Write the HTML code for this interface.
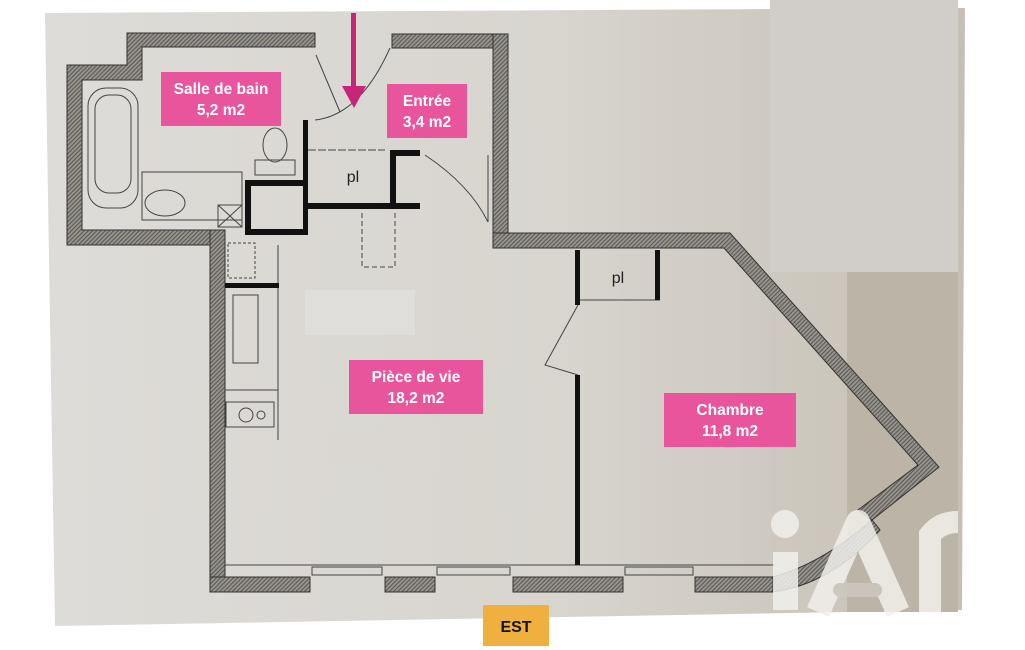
<!DOCTYPE html>
<html><head><meta charset="utf-8"><style>
html,body{margin:0;padding:0;background:#fff;}
svg{display:block;}
.lbl{font-family:"Liberation Sans",sans-serif;font-weight:bold;fill:#fff;font-size:15.5px;text-anchor:middle;}
</style></head><body>
<svg width="1025" height="650" viewBox="0 0 1025 650" xmlns="http://www.w3.org/2000/svg">
<defs>
<pattern id="h" width="3" height="3" patternUnits="userSpaceOnUse" patternTransform="rotate(45)">
<rect width="3" height="3" fill="#9a9690"/><rect width="1.2" height="3" fill="#5e5b57"/>
</pattern>
<linearGradient id="pg" x1="0" y1="0" x2="1" y2="0">
<stop offset="0" stop-color="#dedcd8"/><stop offset="0.55" stop-color="#d8d5cf"/><stop offset="1" stop-color="#c6bfb4"/>
</linearGradient>
</defs>
<rect width="1025" height="650" fill="#fff"/>
<polygon points="45,13 965,8 962,610 55,626" fill="url(#pg)"/>
<rect x="770" y="0" width="188" height="272" fill="#d1cec9"/>
<rect x="847" y="272" width="111" height="340" fill="#bdb4a8"/>
<rect x="305" y="290" width="110" height="45" fill="#e0deda"/>
<rect x="330" y="430" width="110" height="35" fill="#dad7d2"/>
<g fill="url(#h)" stroke="#333" stroke-width="1">
<polygon points="127,33 315,33 315,47 142,47 142,80 82,80 82,230 225,230 225,245 67,245 67,65 127,65"/>
<rect x="210" y="230" width="15" height="360"/>
<rect x="392" y="34" width="113" height="14"/>
<rect x="493" y="34" width="15" height="214"/>
<polygon points="493,233 730,233 939,467 872,520 858,510 918,465 724,248 493,248"/>
<path d="M872,520 Q820,565 772,577 L772,592 Q830,585 880,530 Z"/>
<rect x="210" y="577" width="100" height="15"/>
<rect x="385" y="577" width="50" height="15"/>
<rect x="513" y="577" width="110" height="15"/>
<rect x="695" y="577" width="78" height="15"/>
</g>
<g stroke="#444" stroke-width="1" fill="none">
<line x1="225" y1="565" x2="775" y2="565"/>
<rect x="312" y="567" width="70" height="8"/><rect x="437" y="567" width="73" height="8"/><rect x="625" y="567" width="68" height="8"/>
<rect x="88" y="88" width="50" height="120" rx="18"/>
<rect x="95" y="95" width="36" height="98" rx="14"/>
<rect x="142" y="172" width="100" height="48"/>
<ellipse cx="165" cy="203" rx="20" ry="13"/>
<rect x="218" y="205" width="24" height="22"/><path d="M218,205 L242,227 M242,205 L218,227"/>
<ellipse cx="275" cy="145" rx="12" ry="17"/><rect x="255" y="160" width="40" height="15"/>
<rect x="228" y="243" width="27" height="35" stroke-dasharray="3,2"/>
<rect x="233" y="295" width="25" height="68"/>
<rect x="226" y="402" width="48" height="25"/><circle cx="246" cy="415" r="7"/><circle cx="261" cy="415" r="4"/>
<line x1="225" y1="285" x2="278" y2="285"/><line x1="225" y1="390" x2="278" y2="390"/><line x1="278" y1="245" x2="278" y2="440"/>
<path d="M362,213 L362,267 L395,267 L395,213" stroke-dasharray="5,3"/>
<line x1="308" y1="150" x2="385" y2="150" stroke-dasharray="8,2"/>
<path d="M315,120 Q360,115 390,48"/>
<path d="M316,55 L340,112"/>
<path d="M425,155 Q470,185 488,222"/><line x1="488" y1="155" x2="488" y2="222"/>
<path d="M578,305 L545,365 L578,375"/>
<line x1="580" y1="300" x2="660" y2="300"/>
</g>
<g fill="#111">
<rect x="303" y="120" width="5" height="115"/>
<rect x="245" y="180" width="60" height="6"/><rect x="245" y="180" width="6" height="55"/><rect x="245" y="229" width="60" height="6"/>
<rect x="305" y="203" width="115" height="6"/>
<rect x="390" y="150" width="30" height="6"/><rect x="390" y="150" width="6" height="58"/>
<rect x="225" y="283" width="54" height="5"/>
<rect x="575" y="250" width="5" height="55"/>
<rect x="575" y="375" width="5" height="190"/>
<rect x="655" y="250" width="5" height="50"/>
</g>
<text x="353" y="182" font-family="Liberation Sans,sans-serif" font-size="16" fill="#222" text-anchor="middle">pl</text>
<text x="618" y="283" font-family="Liberation Sans,sans-serif" font-size="16" fill="#222" text-anchor="middle">pl</text>
<rect x="351" y="13" width="5" height="78" fill="#c8257a"/>
<polygon points="342,86 366,86 354,108" fill="#c8257a"/>
<rect x="161" y="72" width="120" height="54" fill="#e8559c"/>
<text class="lbl" x="221" y="94">Salle de bain</text><text class="lbl" x="221" y="115">5,2 m2</text>
<rect x="387" y="84" width="80" height="54" fill="#e8559c"/>
<text class="lbl" x="427" y="106">Entrée</text><text class="lbl" x="427" y="127">3,4 m2</text>
<rect x="349" y="360" width="134" height="54" fill="#e8559c"/>
<text class="lbl" x="416" y="382">Pièce de vie</text><text class="lbl" x="416" y="403">18,2 m2</text>
<rect x="664" y="393" width="132" height="54" fill="#e8559c"/>
<text class="lbl" x="730" y="415">Chambre</text><text class="lbl" x="730" y="436">11,8 m2</text>
<rect x="483" y="605" width="66" height="41" fill="#f0b040"/>
<text x="516" y="632" font-family="Liberation Sans,sans-serif" font-weight="bold" font-size="16" fill="#111" text-anchor="middle">EST</text>
<g opacity="0.85">
<circle cx="785" cy="524" r="14" fill="#f2f0ec"/>
<rect x="773" y="552" width="25" height="58" fill="#f2f0ec"/>
<polyline points="818,612 858,522 898,612" fill="none" stroke="#f2f0ec" stroke-width="24" stroke-linejoin="round"/>
<line x1="840" y1="590" x2="875" y2="590" stroke="#ccc8c0" stroke-width="14" stroke-linecap="round"/>
<path d="M930,612 L930,535 Q940,522 958,522" fill="none" stroke="#f2f0ec" stroke-width="22"/>
</g>
</svg>
</body></html>
